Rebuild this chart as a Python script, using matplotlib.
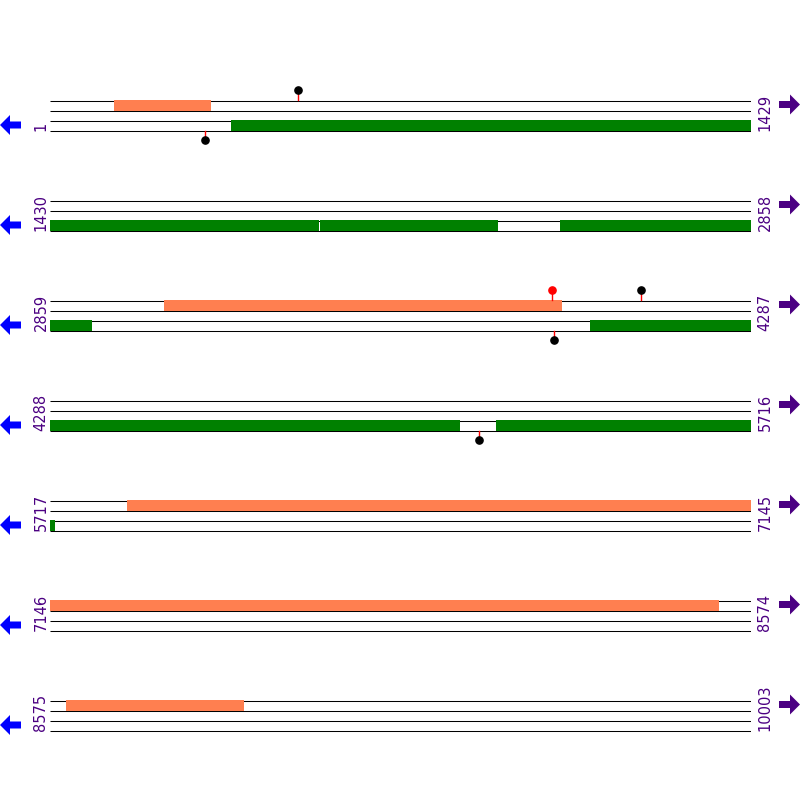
import matplotlib
matplotlib.use("Agg")
import matplotlib.pyplot as plt
from matplotlib.patches import Rectangle, Polygon

# ---- data ----
row_len = 1429
n_rows = 7
total_len = 10003
row_starts = [1 + row_len * k for k in range(n_rows)]
row_ends = [min(row_len * (k + 1), total_len) for k in range(n_rows)]
left_labels = [str(s) for s in row_starts]
right_labels = [str(e) for e in row_ends]

# forward strand features (orange) : (start, end)
fwd_starts = [131, 3091, 5874, 8608]
fwd_ends = [329, 3901, 8508, 8970]
# reverse strand features (green)
rev_starts = [369, 1981, 2470, 3960, 5197]
rev_ends = [1978, 2343, 2944, 5122, 5727]

# lollipops: position, strand (+1 top, -1 bottom), dot colour
lolli_pos = [506, 317, 3882, 4064, 3886, 5162]
lolli_strand = [1, -1, 1, 1, -1, -1]
lolli_color = ["black", "black", "red", "black", "black", "black"]

# ---- style ----
ORANGE = "#FF7F50"
GREEN = "#008000"
LABEL_C = "#4B0082"
LEFT_ARROW_C = "#0000FF"
RIGHT_ARROW_C = "#4B0082"

W = H = 800
fig = plt.figure(figsize=(8, 8), dpi=100)
ax = fig.add_axes([50 / W, 0, 701 / W, 1])
ax.set_xlim(0, row_len)
ax.set_ylim(H, 0)
ax.axis("off")

# overlay axes in pixel units for labels / arrows
ov = fig.add_axes([0, 0, 1, 1])
ov.set_xlim(0, W)
ov.set_ylim(H, 0)
ov.axis("off")

lw = 0.75

for k in range(n_rows):
    y0 = 100 + 100 * k
    rs, re = row_starts[k], row_ends[k]
    # strand lines
    for dy in (0, 10, 20, 30):
        ax.plot([0, row_len], [y0 + dy + 0.5] * 2, color="black", lw=lw,
                solid_capstyle="butt", zorder=1)
    # features
    for starts, ends, col, ytop in ((fwd_starts, fwd_ends, ORANGE, y0),
                                    (rev_starts, rev_ends, GREEN, y0 + 20)):
        for s, e in zip(starts, ends):
            cs, ce = max(s, rs), min(e, re)
            if cs > ce:
                continue
            ax.add_patch(Rectangle((cs - rs, ytop), ce - cs + 1, 11,
                                   facecolor=col, edgecolor="none", zorder=2))
    # lollipops
    for p, st, c in zip(lolli_pos, lolli_strand, lolli_color):
        if rs <= p <= re:
            x = p - rs
            if st == 1:
                ax.plot([x, x], [y0, y0 - 10], color="red", lw=1.0, zorder=3)
                ax.plot([x], [y0 - 10], "o", color=c, ms=5.2, zorder=4)
            else:
                ax.plot([x, x], [y0 + 31, y0 + 40], color="red", lw=1.0, zorder=3)
                ax.plot([x], [y0 + 40], "o", color=c, ms=5.2, zorder=4)
    # labels
    ov.text(41, y0 + 31, left_labels[k], rotation=90, ha="center", va="bottom",
            color=LABEL_C, fontsize=10.5, family="DejaVu Sans")
    ov.text(765, y0 + 31, right_labels[k], rotation=90, ha="center", va="bottom",
            color=LABEL_C, fontsize=10.5, family="DejaVu Sans")
    # arrows
    cy = y0 + 25
    ov.add_patch(Polygon([(0, cy), (10, cy - 10), (10, cy - 3.5), (21, cy - 3.5),
                          (21, cy + 3.5), (10, cy + 3.5), (10, cy + 10)],
                         closed=True, facecolor=LEFT_ARROW_C, edgecolor="none"))
    cy = y0 + 4.5
    ov.add_patch(Polygon([(800, cy), (790, cy - 10), (790, cy - 3.5), (779, cy - 3.5),
                          (779, cy + 3.5), (790, cy + 3.5), (790, cy + 10)],
                         closed=True, facecolor=RIGHT_ARROW_C, edgecolor="none"))

fig.savefig("out.png", dpi=100)
